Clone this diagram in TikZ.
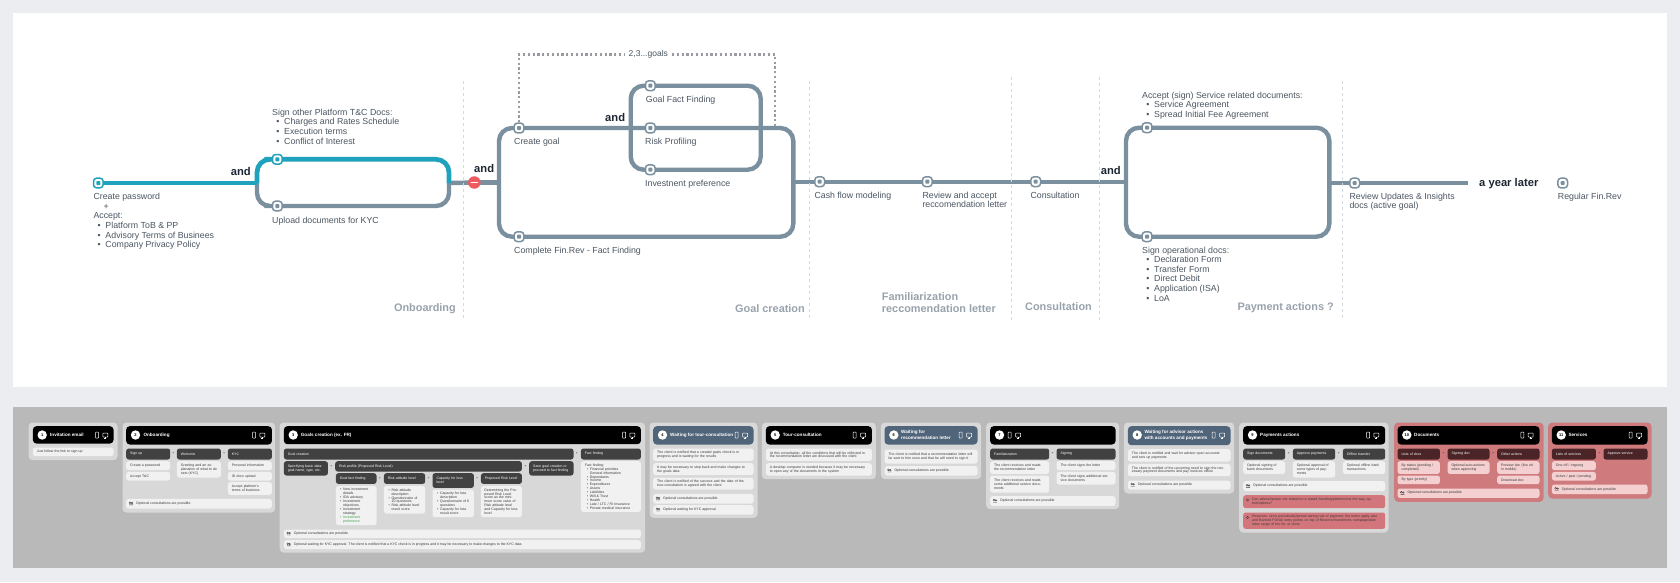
\documentclass[tikz,border=0pt]{standalone}
\usepackage{fontspec}
\setmainfont{Liberation Sans}
\usetikzlibrary{positioning}
\definecolor{pagec}{HTML}{ECEDF1}
\definecolor{darkpanel}{HTML}{B9B9B9}
\definecolor{railc}{HTML}{7B909E}
\definecolor{tealc}{HTML}{1FA3BD}
\definecolor{labc}{HTML}{4C5661}
\definecolor{andc}{HTML}{1D2733}
\definecolor{secc}{HTML}{99A3AD}
\definecolor{dashc}{HTML}{D6D9DD}
\definecolor{dotc}{HTML}{989CA0}
\definecolor{redc}{HTML}{EE5A5F}
\definecolor{cardc}{HTML}{D8D8D8}
\definecolor{rowc}{HTML}{F1F1F1}
\definecolor{subc}{HTML}{414141}
\definecolor{slatec}{HTML}{50647A}
\definecolor{rcard}{HTML}{CF7B7E}
\definecolor{rsub}{HTML}{4A2426}
\definecolor{rrow}{HTML}{F4D0D1}
\definecolor{rwarn}{HTML}{D3767B}
\definecolor{tinyc}{HTML}{3A3A3A}
\definecolor{greenc}{HTML}{3FA34D}
\pgfdeclarelayer{back}
\pgfdeclarelayer{rails}
\pgfsetlayers{back,rails,main}
\tikzset{
  stopbox/.style={rectangle,draw=#1,fill=white,line width=1.5pt,rounded corners=3pt,minimum size=9.6pt,inner sep=0pt,
    path picture={\fill[#1,rounded corners=.8pt] ([shift={(-2,-2)}]path picture bounding box.center) rectangle ++(4,4);}},
  stopbox/.default=railc,
  rail/.style={draw=railc,line width=4.4pt},
  tealrail/.style={draw=tealc,line width=4.7pt},
  lab/.style={font=\fontsize{8.8}{9.6}\selectfont,text=labc,anchor=north west,inner sep=0pt,align=left,execute at begin node=\rule{0pt}{6.8pt}},
  andlab/.style={font=\bfseries\fontsize{11.2}{12}\selectfont,text=andc,anchor=west,inner sep=0pt},
  seclab/.style={font=\bfseries\fontsize{10.9}{12.3}\selectfont,text=secc,inner sep=0pt,align=left},
  phase/.style={draw=dashc,line width=1pt,dash pattern=on 3pt off 3pt},
  goaldots/.style={draw=dotc,line width=2.3pt,dash pattern=on 2.2pt off 2.6pt},
  boxbase/.style={rectangle,rounded corners=2.5pt,inner sep=0pt,align=left,font=\fontsize{3.5}{3.9}\selectfont,text=tinyc},
  cardbox/.style={fill=cardc,rounded corners=4pt},
  redcard/.style={fill=rcard,rounded corners=4pt},
  hdrbox/.style={fill=black,rounded corners=3.5pt},
  slatehdr/.style={fill=slatec,rounded corners=3.5pt},
  subbox/.style={fill=subc,text=white},
  rowbox/.style={fill=rowc},
  rsubbox/.style={fill=rsub,text=white},
  rrowbox/.style={fill=rrow},
  warnbox/.style={fill=rwarn},
  warntext/.style={anchor=west,inner sep=0pt,align=left,text width=129pt,text=tinyc,font=\fontsize{3.5}{3.9}\selectfont},
  numdot/.style={circle,fill=white,minimum size=9.4pt,inner sep=0pt,text=black,font=\bfseries\fontsize{4}{4}\selectfont},
  hdrtext/.style={anchor=west,inner sep=0pt,text=white,align=left,font=\bfseries\fontsize{4.6}{5.6}\selectfont},
  joiner/.style={inner sep=0pt,text=tinyc,font=\fontsize{3.5}{4}\selectfont},
  iconline/.style={draw=#1,line width=.5pt,rounded corners=.6pt},
  iconline/.default=white
}
\newcommand{\mkbx}[7][]{\node[boxbase,minimum width={(#5-#3)*1pt},minimum height={(#6-#4)*1pt},text width={(#5-#3-8)*1pt},anchor=north west,#1] (#2) at (#3,#4) {#7};}
\newcommand{\mkcard}[6][cardbox]{\begin{pgfonlayer}{rails}\node[rectangle,inner sep=0pt,#1,minimum width={(#5-#3)*1pt},minimum height={(#6-#4)*1pt},anchor=north west] (#2) at (#3,#4) {};\end{pgfonlayer}}
\newcommand{\mkicons}[1]{%
  \draw[iconline] (#1-1.5,432) rectangle (#1+1.5,438);
  \draw[iconline] (#1+5.9,433) rectangle (#1+10.9,437);
  \draw[white,line width=.5pt] (#1+8.4,437) -- (#1+8.4,438.2) (#1+7.4,438.2) -- (#1+9.4,438.2);}
\newcommand{\mkhead}[8][hdrbox]{% style,name,x1,x2,y2,num,titlex,title
  \mkbx[#1]{#2}{#3}{426}{#4}{#5}{}
  \node[numdot] (#2n) at (#3+9.5,435) {#6};
  \node[hdrtext] (#2t) at (#7,435) {#8};}
\newcommand{\mkopt}[6][rowbox]{% style,name,x1,y1,x2,y2 then text
  \mkbx[#1]{#2}{#3}{#4}{#5}{#6}{}
  \draw[tinyc,line width=.35pt] (#3+4,#4*.5+#6*.5-.8) circle (.9) (#3+6,#4*.5+#6*.5-.5) circle (.8) (#3+3.2,#4*.5+#6*.5+1.4) -- (#3+7,#4*.5+#6*.5+1.4);
  \node[anchor=west,inner sep=0pt,text=tinyc,font=\fontsize{3.5}{3.9}\selectfont] (#2t) at (#3+10,#4*.5+#6*.5)}
\newcommand{\li}{\makebox[12pt][l]{\hspace{4.1pt}\textbullet}}
\newcommand{\tli}{\makebox[5pt][l]{\hspace{2pt}\textbullet}}
\begin{document}
\begin{tikzpicture}[x=1pt,y=-1pt]
\useasboundingbox (0,0) rectangle (1680,582);
\begin{pgfonlayer}{back}
  \fill[pagec] (0,0) rectangle (1680,582);
  \fill[white] (13,13) rectangle (1667.3,386.7);
  \fill[darkpanel] (13,406.7) rectangle (1667.3,568.3);
\end{pgfonlayer}

% ---------- journey ----------
\node[stopbox=tealc] (s0) at (98.3,183) {};
\node[stopbox=tealc] (s1) at (277.3,159.3) {};
\node[stopbox] (s2) at (277.3,206) {};
\node[circle,fill=redc,minimum size=12.5pt,inner sep=0pt] (stopred) at (474.3,182.5) {};
\draw[white,line width=1.4pt,line cap=round] ([xshift=-3pt]stopred.center) -- ([xshift=3pt]stopred.center);
\node[stopbox] (g1) at (519,128) {};
\node[stopbox] (g2) at (519,236.7) {};
\node[stopbox] (f1) at (650.3,85.7) {};
\node[stopbox] (f2) at (650.3,128) {};
\node[stopbox] (f3) at (650.3,169.7) {};
\node[stopbox] (cash) at (819.7,181.7) {};
\node[stopbox] (rev) at (927.3,181.7) {};
\node[stopbox] (cons) at (1035.7,181.7) {};
\node[stopbox] (p1) at (1147,127.7) {};
\node[stopbox] (p2) at (1147,236.7) {};
\node[stopbox] (ins) at (1354.7,183) {};
\node[stopbox] (reg) at (1562.7,183) {};

\coordinate (ol) at (257,183);
\coordinate (or) at (449,183);
\coordinate (gl) at (499,128);
\coordinate (gr) at (793.3,236.7);
\coordinate (il) at (630.7,85.7);
\coordinate (ir) at (760.7,169.7);
\coordinate (pl) at (1126,127.7);
\coordinate (pr) at (1329.3,236.7);
\coordinate (railend) at (1467.7,183);
\coordinate (dotend) at (775.3,126);

\node[font=\fontsize{8.5}{9}\selectfont,text=labc,inner sep=0pt,minimum width=47pt] (goals) at (648.3,54.5) {2,3...goals};

\begin{pgfonlayer}{rails}
  \draw[rail,rounded corners=13pt] (ol) |- (s2.center) -| (or);
  \draw[rail] (or) -- (stopred.center);
  \draw[tealrail] (s0.center) -- (ol);
  \draw[tealrail,rounded corners=13pt] (ol) |- (s1.center) -| (or);
  \draw[rail] (stopred.center) -- (gl|-stopred);
  \draw[rail,rounded corners=13pt] (gl) rectangle (gr);
  \draw[rail,rounded corners=13pt] (il) rectangle (ir);
  \draw[rail] (gr|-cash) -- (cash.center) -- (rev.center) -- (cons.center) -- (pl|-cons);
  \draw[rail,rounded corners=13pt] (pl) rectangle (pr);
  \draw[rail] (pr|-ins) -- (ins.center) -- (railend);
  \draw[goaldots] (g1.north) |- (goals.west);
  \draw[goaldots] (goals.east) -| (dotend);
  \draw[phase] (463.3,81) -- (463.3,321);
  \draw[phase] (809.3,81) -- (809.3,321);
  \draw[phase] (1011,77) -- (1011,321);
  \draw[phase] (1099.3,77) -- (1099.3,321);
  \draw[phase] (1342.3,81) -- (1342.3,321);
\end{pgfonlayer}

\node[lab] (t0) at (93.3,193.1) {Create password\\\hspace*{10pt}+\\Accept:\\\li Platform ToB \& PP\\\li Advisory Terms of Businees\\\li Company Privacy Policy};
\node[lab] (t1) at (272,108.8) {Sign other Platform T\&C Docs:\\\li Charges and Rates Schedule\\\li Execution terms\\\li Conflict of Interest};
\node[lab] (t2) at (272,216.1) {Upload documents for KYC};
\node[lab] (t3) at (514,137.5) {Create goal};
\node[lab] (t4) at (514,246.1) {Complete Fin.Rev - Fact Finding};
\node[lab] (t5) at (645.7,95.1) {Goal Fact Finding};
\node[lab] (t6) at (645,137.5) {Risk Profiling};
\node[lab] (t7) at (645,179.5) {Investnent preference};
\node[lab] (t8) at (814.3,191.1) {Cash flow modeling};
\node[lab] (t9) at (922.3,191.5) {Review and accept\\reccomendation letter};
\node[lab] (t10) at (1030.3,191.5) {Consultation};
\node[lab] (t11) at (1142,91.5) {Accept (sign) Service related documents:\\\li Service Agreement\\\li Spread Initial Fee Agreement};
\node[lab] (t12) at (1142,246.5) {Sign operational docs:\\\li Declaration Form\\\li Transfer Form\\\li Direct Debit\\\li Application (ISA)\\\li LoA};
\node[lab] (t13) at (1349.3,192.8) {Review Updates \& Insights\\docs (active goal)};
\node[lab] (t14) at (1557.7,192.8) {Regular Fin.Rev};

\node[andlab] (a1) at (230.7,171.7) {and};
\node[andlab] (a2) at (474,168) {and};
\node[andlab] (a3) at (605,117.7) {and};
\node[andlab] (a4) at (1100.7,170) {and};
\node[andlab] (a5) at (1479,183.7) {a year later};

\node[seclab,anchor=east] (l1) at (456,308.7) {Onboarding};
\node[seclab,anchor=east] (l2) at (805,308.7) {Goal creation};
\node[seclab,anchor=west] (l3) at (881.7,302.8) {Familiarization\\reccomendation letter};
\node[seclab,anchor=west] (l4) at (1025,306.7) {Consultation};
\node[seclab,anchor=east] (l5) at (1334,307.7) {Payment actions ?};

% ---------- card 1 ----------
\mkcard{c1}{28.3}{422.3}{117.3}{460}
\mkhead{h1}{32.7}{113.3}{443.3}{1}{50}{Invitation email}
\mkicons{97}
\mkbx[rowbox]{c1a}{32.7}{447.3}{113.3}{456}{Just follow the link to sign up}

% ---------- card 2 ----------
\mkcard{c2}{122.3}{422.3}{275}{512.3}
\mkhead{h2}{126}{271.7}{444.3}{2}{143.3}{Onboarding}
\mkicons{254}
\mkbx[subbox]{c2a}{126}{448.3}{170}{459.3}{Sign up}
\mkbx[subbox]{c2b}{176.7}{448.3}{220.7}{459.3}{Welcome}
\mkbx[subbox]{c2c}{227.7}{448.3}{271.7}{459.3}{KYC}
\node[joiner] (c2p1) at (173.3,453.5) {+};
\node[joiner] (c2p2) at (224.2,453.5) {+};
\mkbx[rowbox]{c2d}{126}{461}{170}{470}{Create a password}
\mkbx[rowbox]{c2e}{126}{471.7}{170}{480.3}{Accept T\&C}
\mkbx[rowbox]{c2f}{176.7}{461}{220.7}{477.3}{Greeting and an explanation of what to do next (KYC)}
\mkbx[rowbox]{c2g}{227.7}{461}{271.7}{470}{Personal information}
\mkbx[rowbox]{c2h}{227.7}{471.7}{271.7}{480.3}{ID docs upload}
\mkbx[rowbox]{c2i}{227.7}{482}{271.7}{494.7}{Accept platform's terms of business}
\mkopt{c2o}{126}{498.7}{271.7}{508.3}{Optional consultations are possible};

% ---------- card 3 ----------
\mkcard{c3}{279.3}{422.3}{645}{552.3}
\mkhead{h3}{283.7}{640.7}{444}{3}{300.7}{Goals creation (ex. FR)}
\mkicons{624}
\mkbx[subbox]{c3a}{283.7}{448.3}{573.3}{459.3}{Goal creation}
\mkbx[subbox]{c3b}{580.7}{448.3}{640.7}{459.3}{Fact finding}
\node[joiner] (c3p1) at (577,453.5) {+};
\mkbx[subbox]{c3c}{283.7}{461}{327.7}{475.3}{Specifying basic data: goal name, type, etc.}
\mkbx[subbox]{c3d}{335}{461}{521.7}{471.3}{Risk profile (Proposed Risk Level)}
\mkbx[subbox]{c3e}{529}{461}{573.3}{475.3}{Save goal creation or proceed to fact finding}
\node[joiner] (c3p2) at (331.4,466) {+};
\node[joiner] (c3p3) at (525.3,466) {+};
\mkbx[subbox]{c3f}{335.7}{473}{376.3}{483.7}{Goal fact finding}
\mkbx[subbox]{c3g}{383.7}{473}{425}{483.7}{Risk attitude level}
\mkbx[subbox]{c3h}{432.3}{473}{473.7}{487.7}{Capacity for loss level}
\mkbx[subbox]{c3i}{480.7}{473}{521.7}{483.7}{Proposed Risk Level}
\node[joiner] (c3p4) at (380,478.5) {+};
\node[joiner] (c3p5) at (428.6,478.5) {+};
\node[joiner] (c3p6) at (477.2,478.5) {+};
\mkbx[rowbox,text width=36pt]{c3j}{335.7}{485.7}{376.3}{525}{\tli New investment\\\hspace*{5pt}details\\\tli IDA advisory\\\tli Investment\\\hspace*{5pt}objectives\\\tli Investment\\\hspace*{5pt}strategy\\{\color{greenc}\tli Investment\\\hspace*{5pt}preference}}
\mkbx[rowbox,text width=36pt]{c3k}{383.7}{485.7}{425}{513.3}{\tli Risk attitude\\\hspace*{5pt}description\\\tli Questionnaire of\\\hspace*{5pt}10 questions\\\tli Risk attitude level\\\hspace*{5pt}result score}
\mkbx[rowbox,text width=36pt]{c3l}{432.3}{489.3}{473.7}{517}{\tli Capacity for loss\\\hspace*{5pt}description\\\tli Questionnaire of 6\\\hspace*{5pt}questions\\\tli Capacity for loss\\\hspace*{5pt}result score}
\mkbx[rowbox,text width=34pt]{c3m}{480.7}{485.7}{521.7}{517}{Determining the Proposed Risk Level score as the minimum score value of Risk attitude level and Capacity for loss level}
\mkbx[rowbox]{c3n}{580.7}{461}{640.7}{511.7}{Fact finding:\\\tli Financial priorities\\\hspace*{5pt}General information\\\tli Dependants\\\tli Income\\\tli Expenditures\\\tli Assets\\\tli Liabilities\\\tli Will \& Trust\\\tli Health\\\tli Late / LTC / RI Insurance\\\tli Private medical insurance}
\mkopt{c3o}{283.7}{529.3}{640.7}{538}{Optional consultations are possible};
\mkopt{c3w}{283.7}{540}{640.7}{549}{Optional waiting for KYC approval. The client is notified that a KYC check is in progress and it may be necessary to make changes to the KYC data};

% ---------- card 4 ----------
\mkcard{c4}{649.3}{422.3}{757.3}{517.7}
\mkhead[slatehdr]{h4}{653}{753.3}{444.3}{4}{670}{Waiting for tour-consultation}
\mkicons{736.7}
\mkbx[rowbox]{c4a}{653}{448.3}{753.3}{460.7}{The client is notified that a created goals check is in progress and is waiting for the results}
\mkbx[rowbox]{c4b}{653}{463}{753.3}{475}{It may be necessary to step back and make changes to the goals data}
\mkbx[rowbox]{c4c}{653}{477.3}{753.3}{489.3}{The client is notified of the success and the date of the tour-consultation is agreed with the client}
\mkopt{c4o}{653}{493.7}{753.3}{503.3}{Optional consultations are possible};
\mkopt{c4w}{653}{505}{753.3}{514.3}{Optional waiting for KYC approval};

% ---------- card 5 ----------
\mkcard{c5}{761.7}{422.3}{875.7}{479}
\mkhead{h5}{765.7}{871.7}{444.3}{5}{782.7}{Tour-consultation}
\mkicons{854.7}
\mkbx[rowbox]{c5a}{765.7}{448.3}{871.7}{460.7}{At this consultation, all the conditions that will be reflected in the recommendation letter are discussed with the client}
\mkbx[rowbox]{c5b}{765.7}{463}{871.7}{475.3}{A desktop computer is needed because it may be necessary to open any of the documents in the system}

% ---------- card 6 ----------
\mkcard{c6}{880.7}{422.3}{981}{479}
\mkhead[slatehdr]{h6}{884.3}{977.3}{444.3}{6}{901}{Waiting for\\recommendation letter}
\mkicons{960.7}
\mkbx[rowbox]{c6a}{884.3}{449.3}{977.3}{463.3}{The client is notified that a recommendation letter will be sent to him soon and that he will need to sign it}
\mkopt{c6o}{884.3}{466}{977.3}{475.3}{Optional consultations are possible};

% ---------- card 7 ----------
\mkcard{c7}{986}{422.3}{1119}{509}
\mkhead{h7}{990}{1115.3}{444.3}{7}{1000}{}
\mkicons{1009.7}
\mkbx[subbox]{c7a}{990}{448.3}{1049}{459.3}{Familiarization}
\mkbx[subbox]{c7b}{1056.3}{448.3}{1115.3}{459.3}{Signing}
\node[joiner] (c7p1) at (1052.6,453.5) {+};
\mkbx[rowbox]{c7c}{990}{461}{1049}{473.7}{The client receives and reads the recommendation letter}
\mkbx[rowbox]{c7d}{990}{475.3}{1049}{492.3}{The client receives and reads some additional service documents}
\mkbx[rowbox]{c7e}{1056.3}{461}{1115.3}{470}{The client signs the letter}
\mkbx[rowbox]{c7f}{1056.3}{471.7}{1115.3}{484.3}{The client signs additional service documents}
\mkopt{c7o}{990}{496}{1115.3}{505.7}{Optional consultations are possible};

% ---------- card 8 ----------
\mkcard{c8}{1123.7}{422.3}{1234}{493.3}
\mkhead[slatehdr]{h8}{1127.7}{1230.3}{445}{8}{1144.3}{Waiting for advisor actions\\with accounts and payments}
\mkicons{1213.7}
\mkbx[rowbox]{c8a}{1127.7}{449}{1230.3}{461.3}{The client is notified and wait for advisor open accounts and sets up payments}
\mkbx[rowbox]{c8b}{1127.7}{463.7}{1230.3}{476}{The client is notified of the upcoming need to sign the necessary payment documents and pay invoices offline}
\mkopt{c8o}{1127.7}{480.3}{1230.3}{489.3}{Optional consultations are possible};

% ---------- card 9 ----------
\mkcard{c9}{1239}{422.3}{1388.3}{532.3}
\mkhead{h9}{1243}{1385}{444.3}{9}{1260}{Payments actions}
\mkicons{1368}
\mkbx[subbox]{c9a}{1243}{448.3}{1285}{459.3}{Sign documents}
\mkbx[subbox]{c9b}{1292.7}{448.3}{1335}{459.3}{Approve payments}
\mkbx[subbox]{c9c}{1342.7}{448.3}{1385}{459.3}{Offline transfer}
\node[joiner] (c9p1) at (1288.8,453.5) {+};
\node[joiner] (c9p2) at (1338.8,453.5) {+};
\mkbx[rowbox]{c9d}{1243}{461}{1285}{473.7}{Optional signing of bank documents}
\mkbx[rowbox]{c9e}{1292.7}{461}{1335}{477.3}{Optional approval of some types of payments}
\mkbx[rowbox]{c9f}{1342.7}{461}{1385}{473.7}{Optional offline bank transactions}
\mkopt{c9o}{1243}{481}{1385}{491}{Optional consultations are possible};
\mkbx[warnbox]{c9r}{1243}{495}{1385}{508}{}
\mkbx[warnbox]{c9s}{1243}{512.3}{1385}{528.7}{}
\node[warntext] (c9rt) at (1252,501.5) {Can adviser/poster etc related to a stated founding/platform/not the way, option/options?};
\node[warntext] (c9st) at (1252,520.5) {Reserves, since periodically/period during rule of payment, the terms apply also and Banned FONAI entry points, on top of Reserve/Investment, campaign/plan rates range of fee for, or close};
\draw[tinyc,line width=.35pt] (1247.5,500) circle (1.2) (1247.5,517.5) circle (1.2);

% ---------- card 10 ----------
\mkcard[redcard]{c10}{1394}{422.3}{1543.3}{501.7}
\mkhead{h10}{1397.3}{1539.3}{444.3}{10}{1414}{Documents}
\mkicons{1522.3}
\mkbx[rsubbox]{c10a}{1397.3}{448.3}{1439.7}{459.3}{Lists of docs}
\mkbx[rsubbox]{c10b}{1447.3}{448.3}{1489.3}{459.3}{Signing doc}
\mkbx[rsubbox]{c10c}{1497}{448.3}{1539.3}{459.3}{Other actions}
\node[joiner] (c10p1) at (1443.5,453.5) {+};
\node[joiner] (c10p2) at (1493.2,453.5) {+};
\mkbx[rrowbox]{c10d}{1397.3}{461}{1439.7}{473.7}{By status (pending / completed)}
\mkbx[rrowbox]{c10e}{1397.3}{475.3}{1439.7}{484}{By type (priority)}
\mkbx[rrowbox]{c10f}{1447.3}{461}{1489.3}{473.7}{Optional auto-actions when approving}
\mkbx[rrowbox]{c10g}{1497}{461}{1539.3}{473.7}{Preview doc (live url in mobile)}
\mkbx[rrowbox]{c10h}{1497}{475.3}{1539.3}{484}{Download doc}
\mkopt[rrowbox]{c10o}{1397.3}{488.3}{1539.3}{497.7}{Optional consultations are possible};

% ---------- card 11 ----------
\mkcard[redcard]{c11}{1548}{422.3}{1651.3}{498.3}
\mkhead{h11}{1551.7}{1647.3}{444.3}{11}{1568.3}{Services}
\mkicons{1630.7}
\mkbx[rsubbox]{c11a}{1551.7}{448.3}{1595.7}{459.3}{Lists of services}
\mkbx[rsubbox]{c11b}{1603.3}{448.3}{1647.3}{459.3}{Approve service}
\node[joiner] (c11p1) at (1599.5,453.5) {+};
\mkbx[rrowbox]{c11c}{1551.7}{461}{1595.7}{470}{One off / ongoing}
\mkbx[rrowbox]{c11d}{1551.7}{471.7}{1595.7}{480.3}{Active / past / pending}
\mkopt[rrowbox]{c11o}{1551.7}{484.3}{1647.3}{494}{Optional consultations are possible};
\end{tikzpicture}
\end{document}
